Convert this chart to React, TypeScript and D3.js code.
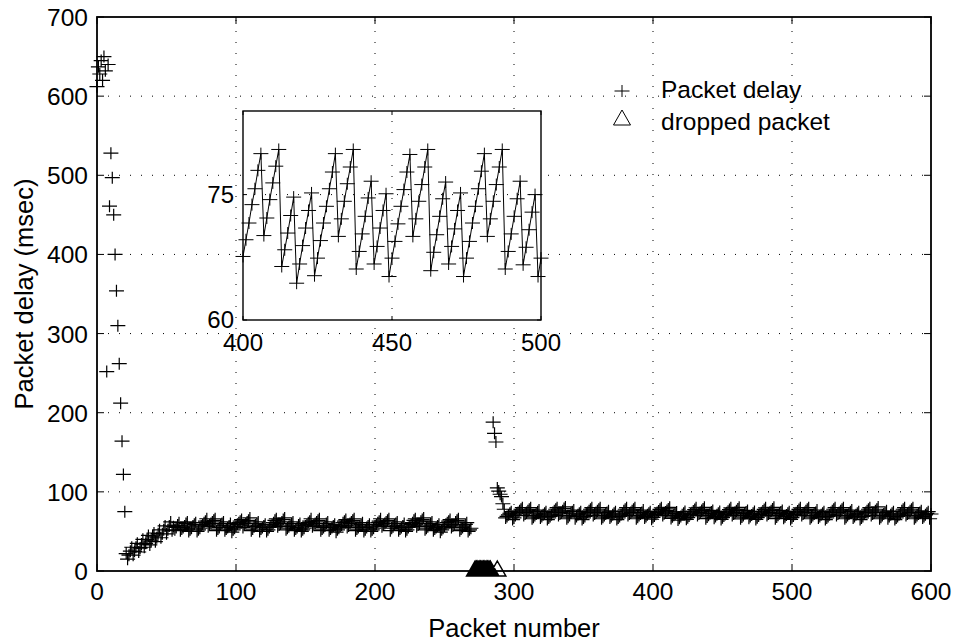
import React from 'react';
import * as d3 from 'd3';

// ---------- data ----------
const xTicks = [0, 100, 200, 300, 400, 500, 600];
const yTicks = [0, 100, 200, 300, 400, 500, 600, 700];
const insetXTicks = [400, 450, 500];
const insetYTicks = [60, 75];

// packets 0..21
const startupDelay = [612, 637, 628, 645, 620, 650, 632, 252, 640, 461, 528, 497, 450, 400, 354, 310, 262, 212, 164, 122, 75, 22];
// packets 22..55
const rampDelay = [15, 20, 25, 30, 20, 25, 30, 35, 24, 29, 34, 40, 30, 35, 40, 45, 33, 38, 44, 48, 37, 42, 47, 52, 42, 47, 52, 57, 47, 52, 57, 62, 51, 56];
// packets 56..269
const plateauDelay = [
  52, 55, 58, 61,
  51, 53, 55, 57, 60, 62,
  50, 52, 54, 57, 59, 61,
  50, 52, 54, 57, 59, 61, 63, 66, 56, 58, 60, 62, 64, 66, 51, 53, 55, 58, 60, 62, 51, 53, 55, 57, 60,
  49, 52, 54, 56, 59, 61, 63, 65, 55, 58, 60, 62, 64, 67, 51, 53, 56, 58, 60, 62, 50, 53, 55, 57, 59,
  50, 52, 55, 57, 59, 61, 64, 66, 56, 58, 60, 62, 65, 67, 52, 54, 56, 58, 60, 62, 51, 53, 55, 58, 60,
  50, 52, 54, 57, 59, 61, 63, 66, 56, 58, 60, 62, 64, 66, 51, 53, 55, 57, 60, 62, 51, 53, 55, 57, 59,
  49, 52, 54, 56, 58, 61, 63, 65, 55, 57, 60, 62, 64, 66, 51, 53, 55, 57, 59, 61, 50, 52, 55, 57, 59,
  50, 52, 54, 57, 59, 61, 63, 66, 56, 58, 60, 62, 64, 66, 51, 54, 56, 58, 60, 62, 51, 53, 55, 57, 60,
  50, 52, 55, 57, 59, 61, 64, 66, 56, 58, 60, 63, 65, 67, 52, 54, 56, 58, 60, 62, 51, 53, 55, 57, 59,
  49, 52, 54, 56, 59, 61, 63, 65, 55, 57, 59, 62, 64, 66, 51, 53, 55, 57, 59, 61, 50, 52, 54,
];
// packets 285..293
const recoveryDelay = [188, 174, 163, 105, 101, 97, 94, 85, 78];
// packets 294..399
const steadyDelayA = [
  67, 69, 71, 73, 75,
  65, 67, 70, 72, 74, 76, 78, 80, 70, 72, 74, 76, 78, 80, 66, 68, 70, 72, 75, 77, 67, 69, 71, 73, 75,
  65, 67, 69, 71, 74, 76, 78, 80, 70, 72, 74, 76, 79, 81, 66, 68, 70, 73, 75, 77, 66, 69, 71, 73, 75,
  65, 67, 69, 72, 74, 76, 78, 80, 70, 72, 74, 76, 78, 80, 66, 68, 70, 72, 74, 76, 67, 69, 71, 73, 75,
  65, 67, 69, 71, 73, 76, 78, 80, 70, 72, 74, 76, 78, 80, 66, 68, 70, 72, 74, 77, 67, 69, 71, 73, 75,
  65.4,
];
// packets 400..500 (shown in the inset)
const insetDelay = [
  67.6, 69.6, 71.6, 73.8, 75.7, 77.9, 79.9,
  70.1, 72.2, 74.4, 76.4, 78.4, 80.4,
  66.4, 68.4, 70.4, 72.5, 74.7,
  64.4, 66.7, 68.9, 71.0, 73.1, 75.2,
  65.3, 67.4, 69.5, 71.6, 73.6, 75.7, 77.7, 79.9,
  70.0, 72.1, 74.2, 76.3, 78.3, 80.4,
  66.1, 68.2, 70.3, 72.4, 74.6, 76.6,
  66.7, 68.8, 71.0, 73.1, 75.1,
  65.2, 67.4, 69.4, 71.5, 73.6, 75.6, 77.7, 79.8,
  70.0, 72.1, 74.2, 76.2, 78.3, 80.4,
  65.9, 68.1, 70.2, 72.4, 74.5, 76.5,
  66.7, 68.8, 70.9, 73.1, 75.2,
  65.2, 67.4, 69.4, 71.6, 73.6, 75.7, 77.8, 79.9,
  70.0, 72.1, 74.2, 76.2, 78.3, 80.4,
  66.1, 68.2, 70.3, 72.4, 74.5, 76.6,
  66.6, 68.7, 70.8, 72.9, 75.0,
  65.2, 67.4,
];
// packets 501..600
const steadyDelayB = [
  69.5, 71.6, 73.6, 75.7, 77.8, 79.9, 70, 72, 74, 76, 78, 80, 66, 68, 70, 72, 74, 77, 67, 69, 71, 73, 75,
  65, 67, 69, 71, 74, 76, 78, 80, 70, 72, 74, 76, 78, 80, 66, 68, 70, 72, 75, 77, 67, 69, 71, 73, 75,
  65, 67, 69, 72, 74, 76, 78, 80, 70, 72, 74, 76, 78, 81, 66, 68, 70, 72, 74, 76, 66, 69, 71, 73, 75,
  65, 67, 69, 71, 73, 76, 78, 80, 70, 72, 74, 76, 78, 80, 66, 68, 70, 72, 74, 76, 67, 69, 71, 73, 75,
  66, 72,
];
const droppedPackets = [272, 273, 274, 275, 276, 277, 278, 279, 280, 281, 282, 283, 288];

type Pt = { packet: number; delay: number };
const seg = (start: number, vals: number[]): Pt[] => vals.map((v, i) => ({ packet: start + i, delay: v }));

const delaySeries: Pt[] = [
  ...seg(0, startupDelay),
  ...seg(22, rampDelay),
  ...seg(56, plateauDelay),
  ...seg(285, recoveryDelay),
  ...seg(294, steadyDelayA),
  ...seg(400, insetDelay),
  ...seg(501, steadyDelayB),
];
const insetSeries: Pt[] = seg(400, insetDelay);
const droppedSeries: Pt[] = droppedPackets.map((p) => ({ packet: p, delay: 0 }));

// ---------- drawing ----------
const W = 957;
const H = 642;
const FONT = '"Liberation Sans", Arial, Helvetica, sans-serif';
const FS = 24.5;
const TITLE_FS = 25.5;
const INSET_FS = 24;

const crossPath = (x: number, y: number) => `M${x - 7.5},${y}h15M${x},${y - 6}v12`;
const triPath = (x: number, y: number) => `M${x},${y - 10}L${x + 8.5},${y + 5}L${x - 8.5},${y + 5}Z`;

export default function App() {
  const x = d3.scaleLinear().domain([0, 600]).range([97, 931]);
  const y = d3.scaleLinear().domain([0, 700]).range([571, 17]);
  const xi = d3.scaleLinear().domain([400, 500]).range([243, 541]);
  const yi = d3.scaleLinear().domain([60, 85]).range([320, 111]);

  const [x0, x1] = x.range();
  const [y0, y1] = y.range();
  const [ix0, ix1] = xi.range();
  const [iy0, iy1] = yi.range();
  const tk = 7;
  const itk = 4;

  const mainCrosses = delaySeries.map((d) => crossPath(x(d.packet), y(d.delay))).join('');
  const drops = droppedSeries.map((d) => triPath(x(d.packet), y(d.delay))).join('');
  const insetCrosses = insetSeries.map((d) => crossPath(xi(d.packet), yi(d.delay))).join('');
  const insetLine = d3
    .line<Pt>()
    .x((d) => xi(d.packet))
    .y((d) => yi(d.delay))(insetSeries) as string;

  const dot = '1,10';

  return (
    <svg
      width={W}
      height={H}
      style={{ position: 'absolute', left: 0, top: 0, background: '#fff' }}
      fontFamily={FONT}
      fontSize={FS}
    >
      <rect x={0} y={0} width={W} height={H} fill="#fff" />
      {/* main grid */}
      <g stroke="#000" strokeWidth={1} strokeDasharray={dot}>
        {xTicks.slice(1, -1).map((t) => (
          <line key={'gx' + t} x1={x(t)} x2={x(t)} y1={y0} y2={y1} />
        ))}
        {yTicks.slice(1, -1).map((t) => (
          <line key={'gy' + t} x1={x0} x2={x1} y1={y(t)} y2={y(t)} />
        ))}
      </g>
      {/* data */}
      <path d={mainCrosses} stroke="#000" strokeWidth={1.2} fill="none" />
      <path d={drops} stroke="#000" strokeWidth={1.5} fill="none" />
      {/* frame */}
      <rect x={x0} y={y1} width={x1 - x0} height={y0 - y1} fill="none" stroke="#000" strokeWidth={1.8} />
      {/* ticks */}
      <g stroke="#000" strokeWidth={1}>
        {xTicks.map((t) => (
          <g key={'tx' + t}>
            <line x1={x(t)} x2={x(t)} y1={y0} y2={y0 - tk} />
            <line x1={x(t)} x2={x(t)} y1={y1} y2={y1 + tk} />
          </g>
        ))}
        {yTicks.map((t) => (
          <g key={'ty' + t}>
            <line x1={x0} x2={x0 + tk} y1={y(t)} y2={y(t)} />
            <line x1={x1} x2={x1 - tk} y1={y(t)} y2={y(t)} />
          </g>
        ))}
      </g>
      {/* tick labels */}
      {xTicks.map((t) => (
        <text key={'lx' + t} x={x(t)} y={600} textAnchor="middle">
          {t}
        </text>
      ))}
      {yTicks.map((t) => (
        <text key={'ly' + t} x={88} y={y(t) + 9} textAnchor="end">
          {t}
        </text>
      ))}
      {/* axis titles */}
      <text x={(x0 + x1) / 2} y={637} textAnchor="middle" fontSize={TITLE_FS}>
        Packet number
      </text>
      <text transform={`translate(33,${(y0 + y1) / 2}) rotate(-90)`} textAnchor="middle" fontSize={TITLE_FS}>
        Packet delay (msec)
      </text>
      {/* legend */}
      <path d={crossPath(622, 91)} stroke="#000" strokeWidth={1} fill="none" />
      <text x={661} y={98}>Packet delay</text>
      <path d={triPath(622, 120)} stroke="#000" strokeWidth={1} fill="none" />
      <text x={661} y={130}>dropped packet</text>

      {/* inset */}
      <rect x={ix0} y={iy1} width={ix1 - ix0} height={iy0 - iy1} fill="#fff" />
      <g stroke="#000" strokeWidth={1} strokeDasharray={dot}>
        {insetXTicks.slice(1, -1).map((t) => (
          <line key={'igx' + t} x1={xi(t)} x2={xi(t)} y1={iy0} y2={iy1} />
        ))}
        {insetYTicks.slice(1).map((t) => (
          <line key={'igy' + t} x1={ix0} x2={ix1} y1={yi(t)} y2={yi(t)} />
        ))}
      </g>
      <path d={insetLine} stroke="#000" strokeWidth={1} fill="none" />
      <path d={insetCrosses} stroke="#000" strokeWidth={1} fill="none" />
      <rect x={ix0} y={iy1} width={ix1 - ix0} height={iy0 - iy1} fill="none" stroke="#000" strokeWidth={1.4} />
      <g stroke="#000" strokeWidth={1}>
        {insetXTicks.map((t) => (
          <g key={'itx' + t}>
            <line x1={xi(t)} x2={xi(t)} y1={iy0} y2={iy0 - itk} />
            <line x1={xi(t)} x2={xi(t)} y1={iy1} y2={iy1 + itk} />
          </g>
        ))}
        {insetYTicks.map((t) => (
          <g key={'ity' + t}>
            <line x1={ix0} x2={ix0 + itk} y1={yi(t)} y2={yi(t)} />
            <line x1={ix1} x2={ix1 - itk} y1={yi(t)} y2={yi(t)} />
          </g>
        ))}
      </g>
      {insetXTicks.map((t) => (
        <text key={'ilx' + t} x={xi(t)} y={351} textAnchor="middle" fontSize={INSET_FS}>
          {t}
        </text>
      ))}
      {insetYTicks.map((t) => (
        <text key={'ily' + t} x={234} y={yi(t) + 8} textAnchor="end" fontSize={INSET_FS}>
          {t}
        </text>
      ))}
    </svg>
  );
}
